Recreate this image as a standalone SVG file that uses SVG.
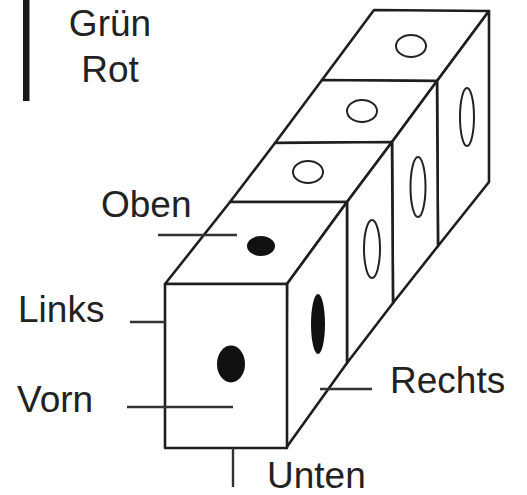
<svg xmlns="http://www.w3.org/2000/svg" width="527" height="495" viewBox="0 0 527 495">
<style>
.e{fill:none;stroke:#1e1e1e;stroke-width:2.6;stroke-linejoin:round;stroke-linecap:round}
.face{fill:#fff;stroke:#1e1e1e;stroke-width:2.6;stroke-linejoin:round}
.ho{fill:none;stroke:#222;stroke-width:2}
.hf{fill:#111;stroke:none}
.t{font-family:"Liberation Sans",Arial,sans-serif;font-size:37px;fill:#222}
.l{fill:none;stroke:#333;stroke-width:2.4}
</style>
<rect width="527" height="495" fill="#fff"/>
<g id="legend">
<rect x="23" y="0" width="6.5" height="101" fill="#1a1a1a"/>
<text class="t" x="110" y="36" text-anchor="middle">Grün</text>
<text class="t" x="110" y="82" text-anchor="middle">Rot</text>
</g>
<g id="cube4">
<polygon class="face" points="374,10 489,11 437,81 322,80"/>
<polygon class="face" points="437,81 489,11 489,182 438,246"/>
<ellipse class="ho" cx="411" cy="46" rx="15" ry="11"/>
<ellipse class="ho" cx="467" cy="117" rx="7" ry="29"/>
</g>
<g id="cube3">
<polygon class="face" points="322,80 437,81 392,142 275,143"/>
<polygon class="face" points="392,142 437,81 438,246 393,303"/>
<ellipse class="ho" cx="362" cy="111" rx="15" ry="11"/>
<ellipse class="ho" cx="418" cy="187" rx="7.5" ry="30"/>
</g>
<g id="cube2">
<polygon class="face" points="275,143 392,142 347,202 230,202"/>
<polygon class="face" points="347,202 392,142 393,303 347,363"/>
<ellipse class="ho" cx="308" cy="172" rx="15" ry="11"/>
<ellipse class="ho" cx="372" cy="249" rx="8" ry="29"/>
</g>
<g id="cube1">
<polygon class="face" points="230,202 347,202 287,284 165,284"/>
<polygon class="face" points="287,284 347,202 347,363 286,448"/>
<rect class="face" x="165" y="284" width="122" height="164"/>
<ellipse class="hf" cx="261" cy="246" rx="14" ry="10"/>
<ellipse class="hf" cx="318" cy="324" rx="7" ry="30"/>
<ellipse class="hf" cx="231" cy="364" rx="14" ry="18.5"/>
</g>
<g id="connectors">
<line class="l" x1="158" y1="235" x2="237" y2="235"/>
<line class="l" x1="130" y1="322" x2="165" y2="322"/>
<line class="l" x1="127" y1="407" x2="233" y2="407"/>
<line class="l" x1="233" y1="448" x2="233" y2="487"/>
<line class="l" x1="320" y1="389" x2="372" y2="389"/>
</g>
<g id="labels">
<text class="t" x="101" y="217">Oben</text>
<text class="t" x="18" y="322">Links</text>
<text class="t" x="17" y="412">Vorn</text>
<text class="t" x="390" y="393">Rechts</text>
<text class="t" x="267" y="488">Unten</text>
</g>
</svg>
